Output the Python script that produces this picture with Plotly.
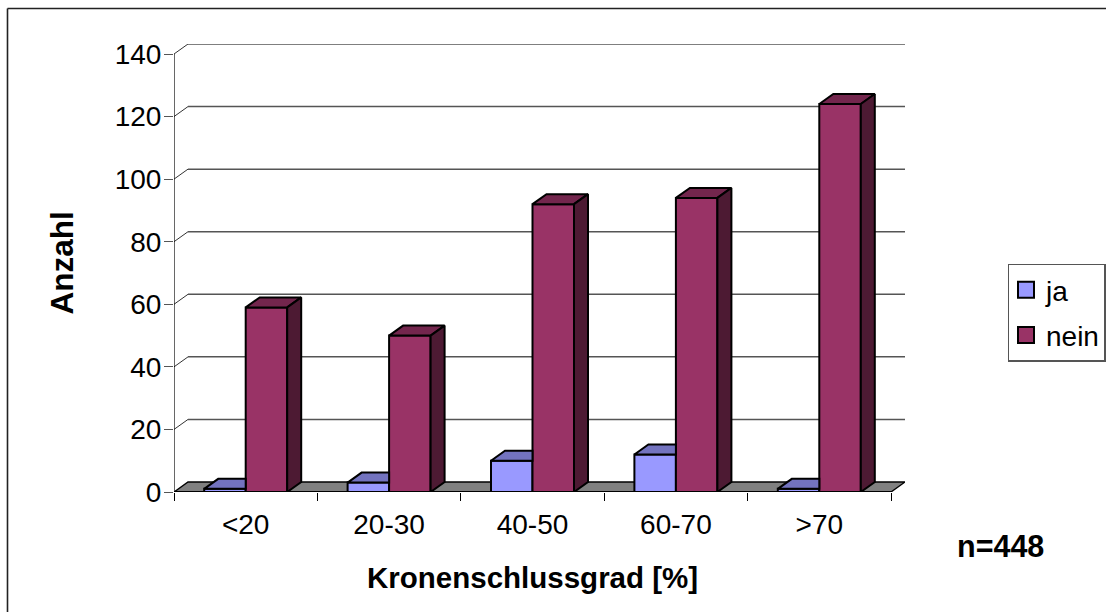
import plotly.graph_objects as go

categories = ["<20", "20-30", "40-50", "60-70", ">70"]
ja = [1, 3, 10, 12, 1]
nein = [59, 50, 92, 94, 124]
y_ticks = [0, 20, 40, 60, 80, 100, 120, 140]
n_label = "n=448"

W, H = 1106, 612
L, R, T, B = 174, 905, 44, 492
DX = 14 / 143.4      # depth of the 3D effect in x units
DY = 10 / 3.129      # depth in y units
BW = 0.2894          # width of one bar
FS = 28
EDGE = 2

COL = {"ja": ("#9999FF", "#7373BF", "#4D4D80"),
       "nein": ("#993366", "#73264D", "#4D1A33")}

centers = [i + 0.5 for i in range(len(categories))]
fig = go.Figure()

def poly(xs, ys, fill):
    fig.add_trace(go.Scatter(x=xs, y=ys, mode="lines", fill="toself", fillcolor=fill,
                             line=dict(color="black", width=EDGE), showlegend=False,
                             hoverinfo="skip", cliponaxis=False))

# front faces
fig.add_trace(go.Bar(x=centers, y=ja, width=BW, offset=-BW, name="ja", legendgroup="ja",
                     showlegend=False, marker=dict(color=COL["ja"][0], line=dict(color="black", width=EDGE))))
fig.add_trace(go.Bar(x=centers, y=nein, width=BW, offset=0, name="nein", legendgroup="nein",
                     showlegend=False, marker=dict(color=COL["nein"][0], line=dict(color="black", width=EDGE))))

# top faces of ja (the part right of the nein front is hidden)
for c, v in zip(centers, ja):
    poly([c - BW, c - BW + DX, c, c, c - BW], [v, v + DY, v + DY, v, v], COL["ja"][1])
# top and side faces of nein
for c, v in zip(centers, nein):
    poly([c, c + DX, c + BW + DX, c + BW, c], [v, v + DY, v + DY, v, v], COL["nein"][1])
    poly([c + BW, c + BW + DX, c + BW + DX, c + BW, c + BW], [v, v + DY, DY, 0, v], COL["nein"][2])

# legend entries
for name in ["ja", "nein"]:
    fig.add_trace(go.Scatter(x=[None], y=[None], mode="markers", name=name, legendgroup=name,
                             marker=dict(symbol="square", size=16, color=COL[name][0],
                                         line=dict(color="black", width=2))))

n = len(categories)
shapes = []
# floor
shapes.append(dict(type="path", layer="below", xref="x", yref="y",
                   path=f"M 0 0 L {DX} {DY} L {n + DX} {DY} L {n} 0 Z",
                   fillcolor="#808080", line=dict(color="black", width=1.4)))
# wall gridlines
for t in y_ticks[1:]:
    shapes.append(dict(type="line", layer="below", xref="x", yref="y", x0=DX, x1=n + DX,
                       y0=t + DY, y1=t + DY, line=dict(color="#555555", width=1.5)))
    shapes.append(dict(type="line", layer="below", xref="x", yref="y", x0=0, x1=DX,
                       y0=t, y1=t + DY, line=dict(color="#333333", width=1)))
# axes
shapes.append(dict(type="line", layer="below", xref="x", yref="y", x0=0, x1=0, y0=0, y1=y_ticks[-1],
                   line=dict(color="black", width=1.2)))
shapes.append(dict(type="line", layer="above", xref="x", yref="y", x0=0, x1=n, y0=0, y1=0,
                   line=dict(color="black", width=1.8)))
# outer frame (only top and left edges lie inside the picture)
pw, ph = R - L, B - T
def px(p): return (p - L) / pw
def py(p): return (B - p) / ph
shapes.append(dict(type="line", xref="paper", yref="paper", x0=px(7.5), x1=px(W),
                   y0=py(8.5), y1=py(8.5), line=dict(color="#222222", width=1.6), layer="below"))
shapes.append(dict(type="line", xref="paper", yref="paper", x0=px(7.5), x1=px(7.5),
                   y0=py(8.5), y1=py(H), line=dict(color="#222222", width=1.6), layer="below"))

annots = [
    dict(text="Anzahl", x=px(61), y=py(262.5), textangle=-90, font_size=31.5),
    dict(text="Kronenschlussgrad [%]", x=px(532), y=py(577), font_size=29.5),
    dict(text=n_label, x=px(1000), y=py(546), font_size=30.5),
]
for a in annots:
    size = a.pop("font_size")
    a.update(xref="paper", yref="paper", showarrow=False, xanchor="center", yanchor="middle",
             font=dict(family="Liberation Sans", size=size, color="black", weight="bold"))

fig.update_layout(
    width=W, height=H, margin=dict(l=L, r=W - R, t=T, b=H - B, pad=0, autoexpand=False),
    paper_bgcolor="white", plot_bgcolor="rgba(0,0,0,0)", barmode="overlay",
    font=dict(family="Liberation Sans", size=FS, color="black"),
    shapes=shapes, annotations=annots, hovermode=False,
    legend=dict(x=px(1007.5), y=py(263.5), xanchor="left", yanchor="top", bgcolor="white",
                bordercolor="#555555", borderwidth=1.5, itemwidth=30,
                entrywidth=34, entrywidthmode="pixels", indentation=-3,
                font=dict(size=FS), tracegroupgap=6),
)
fig.update_xaxes(range=[0, n + DX], tickmode="array", tickvals=centers, ticktext=categories,
                 ticks="", showgrid=False, zeroline=False, showline=False, ticklabelstandoff=13,
                 minor=dict(tickmode="array", tickvals=list(range(n + 1)), ticks="outside",
                            ticklen=8, tickwidth=1, tickcolor="black", showgrid=False))
fig.update_yaxes(range=[0, y_ticks[-1] + DY], tickmode="array", tickvals=y_ticks,
                 ticks="outside", ticklen=9, tickwidth=1.4, tickcolor="#555555", ticklabelstandoff=-3,
                 showgrid=False, zeroline=False, showline=False)

fig.write_html("out.html", config={"displayModeBar": False},
               post_script="document.body.style.margin='0';")
